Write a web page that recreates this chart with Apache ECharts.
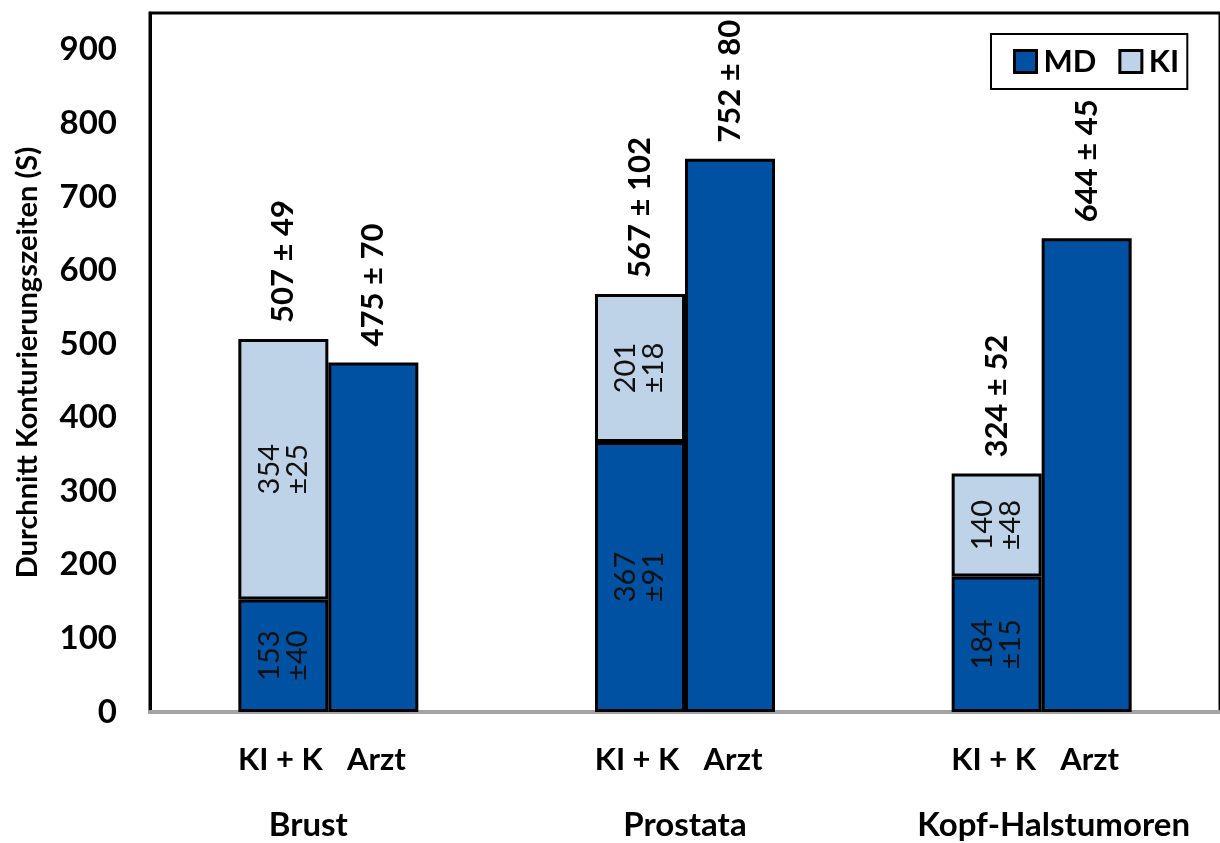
<!DOCTYPE html>
<html>
<head>
<meta charset="utf-8">
<script src="https://cdn.jsdelivr.net/npm/echarts@6/dist/echarts.min.js"></script>
<style>
  html, body { margin: 0; padding: 0; background: #fff; }
  #chart { width: 1220px; height: 843px; }
</style>
</head>
<body>
<div id="chart"></div>
<script>
// Mean contouring times (seconds) per tumour site
const categories = ['Brust', 'Prostata', 'Kopf-Halstumoren'];
const barNames = ['KI + K', 'Arzt'];

// KI + K: physician correction part (MD) and AI part (KI), stacked
const mdMean = [153, 367, 184];
const mdSd = [40, 91, 15];
const kiMean = [354, 201, 140];
const kiSd = [25, 18, 48];
const totalMean = [507, 567, 324];
const totalSd = [49, 102, 52];

// Physician alone (Arzt)
const arztMean = [475, 752, 644];
const arztSd = [70, 80, 45];

const yTicks = [0, 100, 200, 300, 400, 500, 600, 700, 800, 900];

const DARK = '#0051a1';
const LIGHT = '#bfd3e8';
const FONT = 'Lato';

const innerLabel = (sd) => ({
  show: true,
  position: 'inside',
  rotate: 90,
  align: 'center',
  verticalAlign: 'middle',
  fontFamily: FONT,
  fontSize: 29,
  lineHeight: 28,
  color: '#111',
  formatter: (p) => p.value + '\n±' + sd[p.dataIndex]
});

const topLabel = (mean, sd) => ({
  show: true,
  position: 'top',
  rotate: 90,
  align: 'left',
  verticalAlign: 'middle',
  distance: 16,
  fontFamily: FONT,
  fontWeight: 'bold',
  fontSize: 31,
  color: '#000',
  formatter: (p) => mean[p.dataIndex] + ' ± ' + sd[p.dataIndex]
});

const groupStyle = (pad) => ({
  fontFamily: FONT, fontWeight: 'bold', fontSize: 33, color: '#000',
  lineHeight: 90, align: 'center', padding: pad
});

const chart = echarts.init(document.getElementById('chart'), null, { renderer: 'canvas' });

chart.setOption({
  animation: false,
  backgroundColor: '#fff',
  grid: {
    left: 150, top: 13, width: 1072, height: 699,
    show: true, borderColor: '#000', borderWidth: 3, backgroundColor: 'transparent'
  },
  legend: {
    data: ['MD', 'KI'],
    left: 991, top: 34,
    padding: [12, 8, 12, 22],
    itemGap: 22,
    itemWidth: 22, itemHeight: 22,
    icon: 'rect',
    borderColor: '#000', borderWidth: 2, backgroundColor: '#fff',
    itemStyle: { borderColor: '#000', borderWidth: 3 },
    textStyle: { fontFamily: FONT, fontWeight: 'bold', fontSize: 31, color: '#000', padding: [0, 0, 0, 2] }
  },
  xAxis: {
    type: 'category',
    data: categories,
    axisLine: { show: true, lineStyle: { color: '#a3a3a3', width: 4 } },
    axisTick: { show: false },
    axisLabel: {
      interval: 0,
      margin: 28,
      verticalAlign: 'top',
      formatter: (v, i) => '{s|' + barNames[0] + '}{s|' + barNames[1] + '}\n{g' + i + '|' + v + '}',
      rich: {
        s: { fontFamily: FONT, fontWeight: 'bold', fontSize: 31, color: '#000', width: 96, align: 'center', lineHeight: 40 },
        g0: groupStyle([0, 40, 0, 0]),
        g1: groupStyle([0, 0, 0, 0]),
        g2: groupStyle([0, 0, 0, 24])
      }
    }
  },
  yAxis: {
    type: 'value',
    min: 0, max: 950, interval: 100,
    name: 'Durchnitt Konturierungszeiten (S)',
    nameLocation: 'middle',
    nameGap: 108,
    nameRotate: 90,
    nameTextStyle: { fontFamily: FONT, fontWeight: 'bold', fontSize: 29, color: '#000' },
    axisLine: { show: true, lineStyle: { color: '#000', width: 3 } },
    axisTick: { show: false },
    splitLine: { show: false },
    axisLabel: {
      margin: 33,
      showMaxLabel: false,
      fontFamily: FONT, fontWeight: 'bold', fontSize: 33, color: '#000',
      formatter: (v) => (yTicks.indexOf(v) >= 0 ? String(v) : '')
    }
  },
  series: [
    {
      name: 'MD', type: 'bar', stack: 'kik',
      barWidth: 90, barGap: '0%',
      data: mdMean,
      itemStyle: { color: DARK, borderColor: '#000', borderWidth: 3 },
      label: innerLabel(mdSd)
    },
    {
      name: 'KI', type: 'bar', stack: 'kik',
      barWidth: 90, barGap: '0%',
      data: kiMean,
      itemStyle: { color: LIGHT, borderColor: '#000', borderWidth: 3 },
      label: innerLabel(kiSd)
    },
    {
      // invisible carrier for the stack total label
      name: 'KI', type: 'bar', stack: 'kik',
      barWidth: 90, barGap: '0%',
      data: [0, 0, 0],
      itemStyle: { color: 'transparent', borderWidth: 0 },
      label: topLabel(totalMean, totalSd),
      tooltip: { show: false }
    },
    {
      name: 'MD', type: 'bar', stack: 'arzt',
      barWidth: 90, barGap: '0%',
      data: arztMean,
      itemStyle: { color: DARK, borderColor: '#000', borderWidth: 3 },
      label: topLabel(arztMean, arztSd)
    }
  ]
});
</script>
</body>
</html>
